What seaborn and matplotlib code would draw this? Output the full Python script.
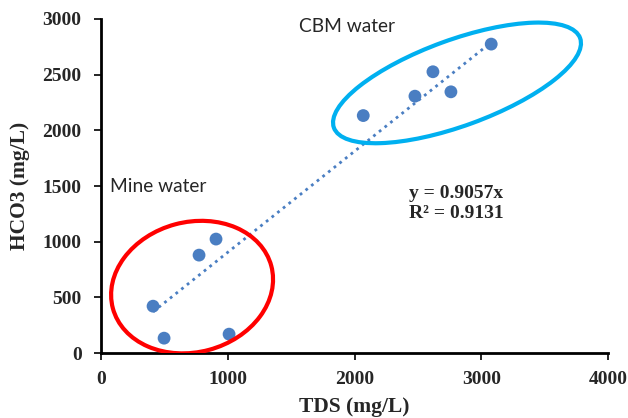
import numpy as np
import pandas as pd
import seaborn as sns
import matplotlib.pyplot as plt
from matplotlib.patches import Ellipse
from matplotlib.transforms import IdentityTransform

# TDS vs HCO3 samples
tds = [410, 497, 773, 907, 1010, 2069, 2477, 2619, 2761, 3079]
hco3 = [422, 135, 880, 1024, 171, 2132, 2306, 2525, 2345, 2773]
group = ['Mine'] * 5 + ['CBM'] * 5
slope = 0.9057
r2 = 0.9131

df = pd.DataFrame({'TDS': tds, 'HCO3': hco3, 'group': group})

sns.set_style('ticks')
plt.rcParams['font.family'] = ['Liberation Serif', 'DejaVu Serif']

fig, ax = plt.subplots(figsize=(6.28, 4.18), dpi=100)
fig.subplots_adjust(left=0.161, right=0.968, bottom=0.155, top=0.955)

pt_color = '#4A7EC2'
sns.scatterplot(data=df, x='TDS', y='HCO3', color=pt_color, s=85,
                edgecolor='none', ax=ax, zorder=3)

# linear trendline through origin
xl = np.array([min(tds), max(tds)])
ax.plot(xl, slope * xl, color=pt_color, lw=2, linestyle=(0, (1, 1.6)), zorder=2)

ax.set_xlim(0, 4000)
ax.set_ylim(0, 3000)
ax.set_xticks([0, 1000, 2000, 3000, 4000])
ax.set_yticks(range(0, 3001, 500))
sns.despine(ax=ax)
for s in ['left', 'bottom']:
    ax.spines[s].set_linewidth(2)
    ax.spines[s].set_color('black')
ax.tick_params(axis='both', direction='out', length=5, width=1.2, color='black',
               labelsize=14)
ax.tick_params(axis='y', pad=9)
ax.tick_params(axis='x', pad=8)
for lab in ax.get_xticklabels() + ax.get_yticklabels():
    lab.set_fontweight('bold')
ax.set_xlabel('TDS (mg/L)', fontsize=15.5, fontweight='bold', labelpad=6)
ax.set_ylabel('HCO3 (mg/L)', fontsize=15.5, fontweight='bold', labelpad=9)

# group ellipses (sizes in pixels)
ells = [((718, 593), 164, 130, 15, '#FF0000'),
        ((2809, 2425), 262, 86, 20, '#00B0F0')]
for (cx, cy), w, h, ang, col in ells:
    px, py = ax.transData.transform((cx, cy))
    e = Ellipse((px, py), w, h, angle=ang, fill=False, edgecolor=col, lw=3,
                transform=IdentityTransform(), zorder=4)
    ax.add_artist(e)

ax.text(70, 1500, 'Mine water', fontsize=13.8, family=['Lato', 'DejaVu Sans'],
        va='center', ha='left')
ax.text(1565, 2930, 'CBM water', fontsize=13.8, family=['Lato', 'DejaVu Sans'],
        va='center', ha='left')
ax.text(2430, 1430, f'y = {slope}x', fontsize=14, fontweight='bold', va='center')
ax.text(2430, 1250, f'R² = {r2}', fontsize=14, fontweight='bold', va='center')

fig.savefig('out.png', dpi=100)
